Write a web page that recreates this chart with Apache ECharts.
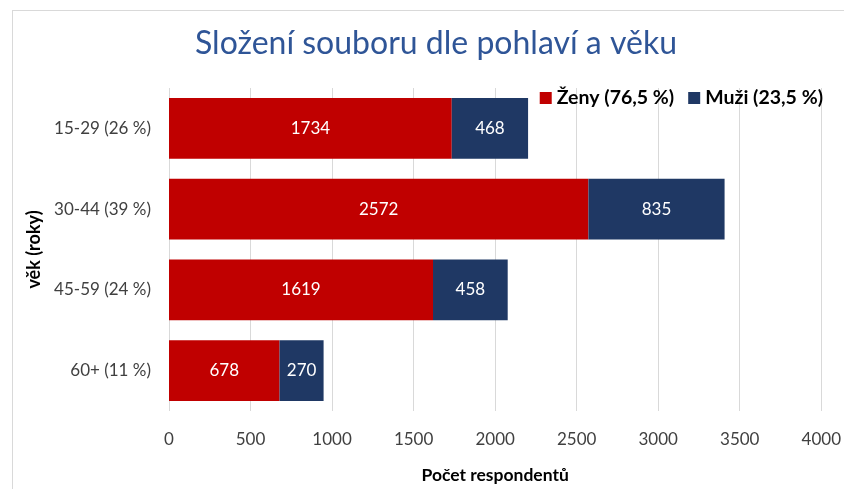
<!DOCTYPE html>
<html>
<head>
<meta charset="utf-8">
<script src="https://cdn.jsdelivr.net/npm/echarts@6/dist/echarts.min.js"></script>
<style>
  html, body { margin: 0; padding: 0; background: #fff; }
  #frame { position: absolute; left: 12px; top: 10px; width: 840px; height: 480px; border: 1px solid #d9d9d9; box-sizing: border-box; }
  #main { width: 844px; height: 489px; position: absolute; left: 0; top: 0; }
</style>
</head>
<body>
<div id="frame"></div>
<div id="main"></div>
<script>
// kategorie (věk) - odshora dolů
var categories = ['15-29 (26 %)', '30-44 (39 %)', '45-59 (24 %)', '60+ (11 %)'];
var zeny = [1734, 2572, 1619, 678];
var muzi = [468, 835, 458, 270];
var seriesNames = ['Ženy (76,5 %)', 'Muži (23,5 %)'];

var font = 'Lato, "Open Sans", sans-serif';

var myChart = echarts.init(document.getElementById('main'));
myChart.setOption({
    animation: false,
    title: {
        text: 'Složení souboru dle pohlaví a věku',
        left: 431,
        textAlign: 'center',
        top: 23,
        textStyle: { color: '#2F5597', fontSize: 32, fontWeight: 'normal', fontFamily: font }
    },
    legend: {
        right: 16,
        top: 83,
        itemWidth: 12,
        itemHeight: 12,
        itemGap: 14,
        icon: 'rect',
        textStyle: { fontSize: 19.5, fontWeight: 'bold', color: '#000', fontFamily: font },
        data: seriesNames
    },
    grid: { left: 169, right: 21, top: 88, bottom: 73, containLabel: false },
    xAxis: {
        type: 'value',
        min: 0,
        max: 4000,
        interval: 500,
        name: 'Počet respondentů',
        nameLocation: 'middle',
        nameGap: 55,
        nameTextStyle: { fontSize: 17.5, fontWeight: 'bold', color: '#000', fontFamily: font },
        axisLabel: { fontSize: 17, color: '#404040', margin: 20, fontFamily: font,
            formatter: function (v) { return String(v); } },
        axisLine: { show: false },
        axisTick: { show: false },
        splitLine: { lineStyle: { color: '#d9d9d9' } }
    },
    yAxis: {
        type: 'category',
        inverse: true,
        data: categories,
        name: 'věk (roky)',
        nameLocation: 'middle',
        nameGap: 122,
        nameRotate: 90,
        nameTextStyle: { fontSize: 18, fontWeight: 'bold', color: '#000', fontFamily: font },
        axisLabel: { fontSize: 17, color: '#404040', margin: 18, fontFamily: font },
        axisLine: { show: false },
        axisTick: { show: false }
    },
    series: [
        {
            name: seriesNames[0],
            type: 'bar',
            stack: 'total',
            barCategoryGap: '25%',
            itemStyle: { color: '#C00000' },
            label: { show: true, position: 'inside', color: '#fff', fontSize: 17, fontFamily: font },
            data: zeny
        },
        {
            name: seriesNames[1],
            type: 'bar',
            stack: 'total',
            barCategoryGap: '25%',
            itemStyle: { color: '#1F3864' },
            label: { show: true, position: 'inside', color: '#fff', fontSize: 17, fontFamily: font },
            data: muzi
        }
    ]
});
</script>
</body>
</html>
